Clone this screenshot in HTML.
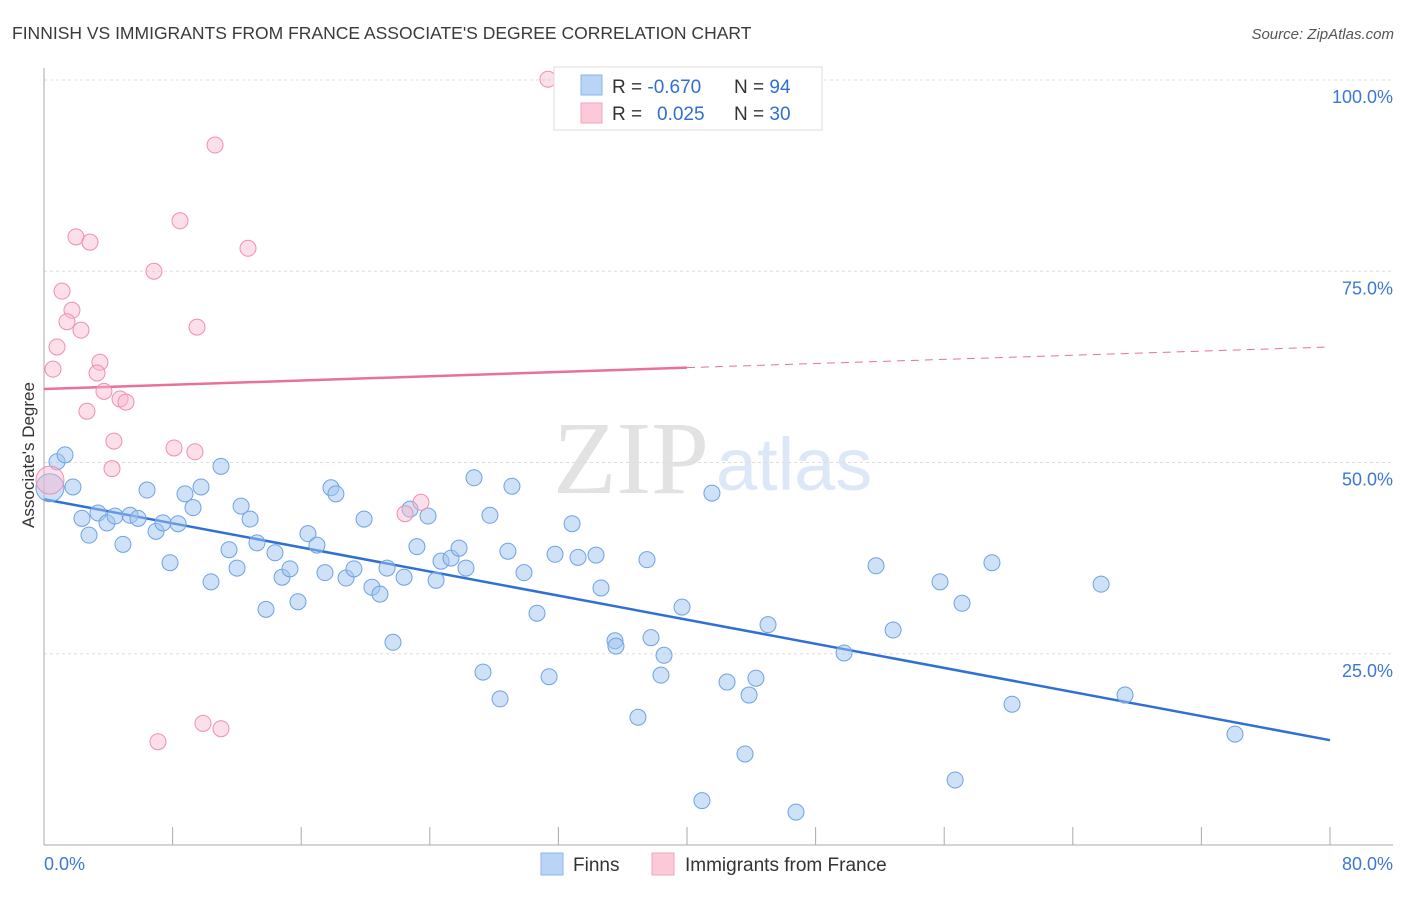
<!DOCTYPE html>
<html><head><meta charset="utf-8"><style>
body{margin:0;background:#fff;font-family:"Liberation Sans",sans-serif}
svg text{font-family:"Liberation Sans",sans-serif}
</style></head><body>
<svg id="c" width="1406" height="892" xmlns="http://www.w3.org/2000/svg">
<text x="12" y="39" font-size="17.5" fill="#3a3a3a">FINNISH VS IMMIGRANTS FROM FRANCE ASSOCIATE'S DEGREE CORRELATION CHART</text>
<text x="1394" y="39" font-size="15" fill="#555" font-style="italic" text-anchor="end">Source: ZipAtlas.com</text>
<g>
<text x="553" y="493" font-size="104" fill="#e2e2e2" font-family="Liberation Serif" style="font-family:'Liberation Serif',serif">ZIP</text>
<text x="716" y="490" font-size="74" fill="#dce8f7">atlas</text>
</g>
<g id="grid"></g><g id="axes"></g><g id="trends"></g><g id="pts"></g>
<text transform="translate(34,455) rotate(-90)" font-size="17" fill="#333" text-anchor="middle">Associate's Degree</text>
<g>
<rect x="554" y="67" width="268" height="63" fill="#fff" stroke="#ddd"/>
<rect x="581" y="75" width="21" height="20" fill="#b9d4f5" stroke="#8ab6ea"/>
<rect x="581" y="103" width="21" height="20" fill="#fbc9d8" stroke="#f3a3bd"/>
<text x="612" y="93" font-size="19" fill="#333">R = <tspan fill="#2f6fd0">-0.670</tspan></text>
<text x="734" y="93" font-size="19" fill="#333">N = <tspan fill="#2f6fd0">94</tspan></text>
<text x="612" y="120" font-size="19" fill="#333">R = <tspan fill="#2f6fd0" x="657">0.025</tspan></text>
<text x="734" y="120" font-size="19" fill="#333">N = <tspan fill="#2f6fd0">30</tspan></text>
</g>
<g>
<rect x="541" y="853" width="22" height="22" fill="#b9d4f5" stroke="#8ab6ea"/>
<text x="573" y="871" font-size="19" fill="#333">Finns</text>
<rect x="652" y="853" width="22" height="22" fill="#fbc9d8" stroke="#f3a3bd"/>
<text x="685" y="871" font-size="19" fill="#333">Immigrants from France</text>
</g>
</svg>
<script>
const blueX=[0.37,0.81,1.31,1.80,2.36,2.80,3.36,3.92,4.42,4.91,5.35,5.85,6.41,6.97,7.40,7.84,8.34,8.77,9.27,9.77,10.39,11.01,11.51,12.01,12.26,12.82,13.25,13.81,14.37,14.81,15.30,15.80,16.42,16.98,17.48,17.85,18.16,18.79,19.28,19.91,20.40,20.90,21.34,21.71,22.40,22.77,23.20,23.89,24.39,24.70,25.32,25.82,26.25,26.75,27.31,27.74,28.37,28.86,29.11,29.86,30.67,31.42,31.79,32.85,33.22,34.34,34.65,35.52,35.58,36.95,37.51,37.76,38.38,38.57,39.69,40.93,41.55,42.49,43.61,43.86,44.29,45.04,46.78,49.77,51.76,52.82,55.74,56.68,57.11,58.97,60.22,65.76,67.25,74.09];
const blueY=[46.7,50.1,51.0,46.8,42.7,40.5,43.4,42.1,43.0,39.3,43.1,42.7,46.4,41.0,42.1,36.9,42.0,45.9,44.1,46.8,34.4,49.5,38.6,36.2,44.3,42.6,39.5,30.8,38.2,35.0,36.1,31.8,40.7,39.2,35.6,46.7,45.9,34.9,36.1,42.6,33.7,32.8,36.2,26.5,35.0,43.9,39.0,43.0,34.6,37.1,37.5,38.8,36.2,48.0,22.6,43.1,19.1,38.4,46.9,35.6,30.3,22.0,38.0,42.0,37.6,37.9,33.6,26.7,26.0,16.7,37.3,27.1,22.2,24.8,31.1,5.8,46.0,21.3,11.9,19.6,21.8,28.8,4.3,25.1,36.5,28.1,34.4,8.5,31.6,36.9,18.4,34.1,19.6,14.5];
const pinkX=[31.35,10.64,8.46,1.99,2.86,12.69,6.84,1.12,1.74,1.43,2.30,9.52,0.81,0.56,3.48,3.30,3.73,2.67,4.73,5.10,4.35,8.09,9.39,4.23,23.45,22.46,9.89,11.01,7.09,0.37];
const pinkY=[100.1,91.5,81.6,79.5,78.8,78.0,75.0,72.4,69.9,68.4,67.3,67.7,65.1,62.2,63.1,61.7,59.3,56.7,58.3,57.9,52.8,51.9,51.4,49.2,44.8,43.3,15.9,15.2,13.5,47.7];
const blueTrend=[45.2,13.7];
const pinkTrend=[59.6,62.4,65.1];
const yTicks=[25,50,75,100];
const xTickCount=10;
const NS="http://www.w3.org/2000/svg";
const X=v=>44+v/80*1286, Y=v=>845-v*7.65;
function mk(p,t,a){const e=document.createElementNS(NS,t);for(const k in a)e.setAttribute(k,a[k]);document.getElementById(p).appendChild(e);return e;}
yTicks.forEach(t=>{
 const g=mk('grid','line',{x1:44,x2:1393,y1:Y(t),y2:Y(t),stroke:'#ddd','stroke-dasharray':'3,3'});
 
 
 const l=mk('grid','text',{x:1393,y:Y(t)+23,'font-size':18,fill:'#3b78d6','text-anchor':'end'});
 l.textContent=t.toFixed(1)+'%';
 
 
});
let ax=mk('axes','line',{x1:44,x2:44,y1:68,y2:845,stroke:'#aaa'});


ax=mk('axes','line',{x1:44,x2:1393,y1:845,y2:845,stroke:'#aaa'});


for(let i=0;i<=xTickCount;i++){
 const t=mk('axes','line',{x1:X(i*8),x2:X(i*8),y1:827,y2:845,stroke:'#aaa'});
 
 
}
let xl=mk('axes','text',{x:44,y:870,'font-size':18,fill:'#3b78d6'});xl.textContent='0.0%';


xl=mk('axes','text',{x:1393,y:870,'font-size':18,fill:'#3b78d6','text-anchor':'end'});xl.textContent='80.0%';


let tr=mk('trends','line',{x1:X(0),y1:Y(blueTrend[0]),x2:X(80),y2:Y(blueTrend[1]),stroke:'#2f6fd6','stroke-width':2.5});


tr=mk('trends','line',{x1:X(0),y1:Y(pinkTrend[0]),x2:X(40),y2:Y(pinkTrend[1]),stroke:'#e8709a','stroke-width':2.5});


tr=mk('trends','line',{x1:X(40),y1:Y(pinkTrend[1]),x2:X(80),y2:Y(pinkTrend[2]),stroke:'#e8709a','stroke-width':1,'stroke-dasharray':'8,6'});


blueX.forEach((x,i)=>{
 const c=mk('pts','circle',{cx:X(x),cy:Y(blueY[i]),r:i==0?14:8,fill:'rgba(160,196,240,0.5)',stroke:'#6ea2e4','stroke-width':1});
 
 
});
pinkX.forEach((x,i)=>{
 const c=mk('pts','circle',{cx:X(x),cy:Y(pinkY[i]),r:i==pinkX.length-1?14:8,fill:'rgba(248,184,204,0.45)',stroke:'#ef8fb0','stroke-width':1});
 
 
});
</script>
</body></html>
